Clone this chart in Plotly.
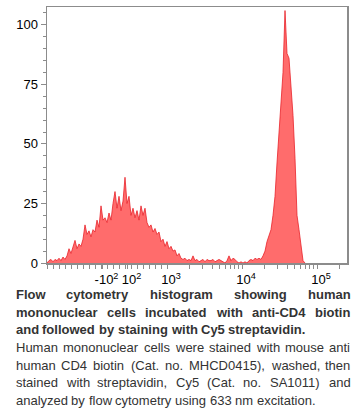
import math
import plotly.graph_objects as go

# ---------------- data ----------------
# Histogram counts per display bin (2 display channels per bin), channel 0 = axis start
BIN_WIDTH = 2
COUNTS = [
    0, 1, 1.5, 0.5, 1.5, 1, 2, 1, 2.5, 1.5,
    3, 6, 4, 7, 9.5, 6, 8, 7, 10, 16,
    12, 13.5, 11, 14, 13, 18, 15, 24, 18, 19,
    17, 21, 18, 25, 30, 23, 28, 22, 26, 36,
    25, 28, 20, 23, 19, 22, 18, 24, 20, 23,
    17, 15, 16, 13, 14.5, 12, 13, 9, 10, 7,
    9, 6, 7, 5, 5.5, 3, 4, 2, 1.5, 2,
    1, 1.5, 1, 3, 1, 1.5, 0.5, 1, 1.5, 0.5,
    1.5, 1, 1, 1.5, 0.5, 1, 1.5, 1, 0.5, 0,
    1, 3, 1, 2, 1.5, 0.5, 0, 0.5, 0, 0.5,
    0, 1, 1.5, 1, 2, 1.5, 2, 1.5, 3, 5,
    9, 12, 14, 20, 28, 42, 55, 65, 80, 106,
    88, 86, 74, 62, 44, 20, 14, 7, 1, 0,
]
CHANNELS = [i * BIN_WIDTH for i in range(len(COUNTS))]

Y_TICKS = [0, 25, 50, 75, 100]
X_TICK_TEXT = ["-10<sup>2</sup>", "10<sup>2</sup>", "10<sup>3</sup>", "10<sup>4</sup>", "10<sup>5</sup>"]
X_TICK_CHANNELS = [55.5, 80.5, 120, 195, 270]
LINEAR_MINOR_VALUES = list(range(-1000, 1000, 100))
DECADES = [1000, 10000, 100000]

CAPTION_BOLD = [
    "Flow cytometry histogram showing human",
    "mononuclear cells incubated with anti-CD4 biotin",
    "and followed by staining with Cy5 streptavidin.",
]
CAPTION_TEXT = [
    "Human mononuclear cells were stained with mouse anti",
    "human CD4 biotin (Cat. no. MHCD0415), washed, then",
    "stained with streptavidin, Cy5 (Cat. no. SA1011) and",
    "analyzed by flow cytometry using 633 nm excitation.",
]

# ---------------- display transform (biexponential-like axis) ----------------
AXIS_MAX = 300


def channel(v):
    if v < 1000:
        return 60 + 0.06 * v
    return 120 + 75 * math.log10(v / 1000)


minor_ticks = [channel(v) for v in LINEAR_MINOR_VALUES]
for d in DECADES:
    for m in range(2, 10):
        c = channel(m * d)
        if c <= AXIS_MAX:
            minor_ticks.append(c)

AXIS_COLOR = "#8c8c8c"
FONT = "Liberation Sans, Arial, sans-serif"

fig = go.Figure()
fig.add_trace(go.Scatter(
    x=CHANNELS, y=COUNTS, mode="lines", fill="tozeroy",
    line=dict(color="#e8222a", width=0.8),
    fillcolor="rgba(255,100,100,0.95)",
    hoverinfo="skip", showlegend=False,
))

ML, MR, MT, MB = 47, 8, 5, 153
W, H = 355, 416
PW, PH = W - ML - MR, H - MT - MB

fig.update_layout(
    width=W, height=H,
    margin=dict(l=ML, r=MR, t=MT, b=MB, pad=0),
    paper_bgcolor="white", plot_bgcolor="white",
    font=dict(family=FONT, size=13, color="#000"),
    showlegend=False,
)
fig.update_xaxes(
    range=[0, AXIS_MAX], showgrid=False, zeroline=False,
    showline=True, linecolor=AXIS_COLOR, linewidth=1.5, mirror=True,
    tickmode="array", tickvals=X_TICK_CHANNELS, ticktext=X_TICK_TEXT,
    ticks="outside", ticklen=4, tickcolor=AXIS_COLOR, tickwidth=1,
    ticklabelshift=4, tickangle=0,
    tickfont=dict(family=FONT, size=13, color="#000"),
    minor=dict(tickmode="array", tickvals=minor_ticks, ticks="outside",
               ticklen=4, tickcolor=AXIS_COLOR, tickwidth=1, showgrid=False),
)
fig.update_yaxes(
    range=[0, 107.5], showgrid=False, zeroline=False,
    showline=True, linecolor=AXIS_COLOR, linewidth=1.5, mirror=True,
    tickmode="array", tickvals=Y_TICKS,
    ticks="outside", ticklen=5, tickcolor=AXIS_COLOR, tickwidth=1,
    tickfont=dict(family=FONT, size=13, color="#000"),
    minor=dict(dtick=5, ticks="outside", ticklen=3, tickcolor=AXIS_COLOR,
               tickwidth=1, showgrid=False),
)

# ---------------- caption with justified lines ----------------
REG = {" ": 278, "(": 333, ")": 333, ",": 278, "-": 333, ".": 278,
       "A": 667, "B": 667, "C": 722, "D": 722, "E": 667, "F": 611, "G": 778, "H": 722,
       "I": 278, "J": 500, "K": 667, "L": 556, "M": 833, "N": 722, "O": 778, "P": 667,
       "Q": 778, "R": 722, "S": 667, "T": 611, "U": 722, "V": 667, "W": 944, "X": 667,
       "Y": 667, "Z": 611,
       "a": 556, "b": 556, "c": 500, "d": 556, "e": 556, "f": 278, "g": 556, "h": 556,
       "i": 222, "j": 222, "k": 500, "l": 222, "m": 833, "n": 556, "o": 556, "p": 556,
       "q": 556, "r": 333, "s": 500, "t": 278, "u": 556, "v": 500, "w": 722, "x": 500,
       "y": 500, "z": 500}
BOLD = {" ": 278, "(": 333, ")": 333, ",": 278, "-": 333, ".": 278,
        "A": 722, "B": 722, "C": 722, "D": 722, "E": 667, "F": 611, "G": 778, "H": 722,
        "I": 278, "J": 556, "K": 722, "L": 611, "M": 833, "N": 722, "O": 778, "P": 667,
        "Q": 778, "R": 722, "S": 667, "T": 611, "U": 722, "V": 667, "W": 944, "X": 667,
        "Y": 667, "Z": 611,
        "a": 556, "b": 611, "c": 556, "d": 611, "e": 556, "f": 333, "g": 611, "h": 611,
        "i": 278, "j": 278, "k": 556, "l": 278, "m": 889, "n": 611, "o": 611, "p": 611,
        "q": 611, "r": 389, "s": 556, "t": 333, "u": 611, "v": 556, "w": 778, "x": 556,
        "y": 556, "z": 500}

FS = 13
X_LEFT, X_RIGHT = 14.7, 349.3
LINE_Y0, LINE_STEP = 295.0, 17.75


def text_width(s, table):
    return sum(table.get(ch, 556) for ch in s) * FS / 1000.0


def px_to_paper(px, py):
    return (px - ML) / PW, (H - MB - py) / PH


def add_line(line, py, bold, justify):
    table = BOLD if bold else REG
    words = line.split(" ")
    if justify and len(words) > 1:
        total = sum(text_width(w, table) for w in words)
        gap = (X_RIGHT - X_LEFT - total) / (len(words) - 1)
    else:
        gap = text_width(" ", table)
    x = X_LEFT
    for w in words:
        xp, yp = px_to_paper(x, py)
        fig.add_annotation(
            text=f"<b>{w}</b>" if bold else w,
            x=xp, y=yp, xref="paper", yref="paper",
            xanchor="left", yanchor="middle", showarrow=False,
            borderpad=0, font=dict(family=FONT, size=FS, color="#333333"),
        )
        x += text_width(w, table) + gap


all_lines = [(l, True) for l in CAPTION_BOLD] + [(l, False) for l in CAPTION_TEXT]
for i, (line, bold) in enumerate(all_lines):
    last_of_par = (i == len(CAPTION_BOLD) - 1) or (i == len(all_lines) - 1)
    add_line(line, LINE_Y0 + i * LINE_STEP, bold, not last_of_par)

fig.write_html(
    "out.html",
    config={"displayModeBar": False, "staticPlot": True},
    post_script="document.body.style.margin='0';document.body.style.padding='0';",
)
